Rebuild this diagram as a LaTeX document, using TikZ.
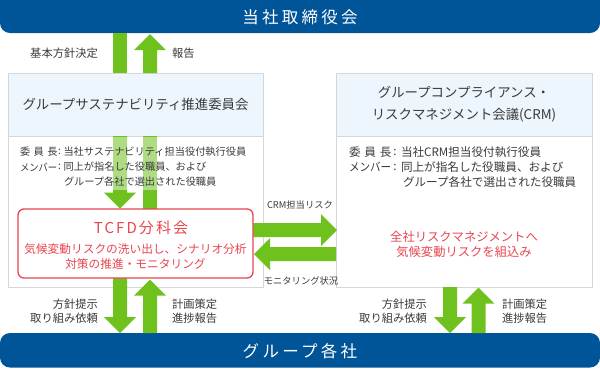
\documentclass[tikz,border=0pt]{standalone}
\usepackage{graphicx}
\usepackage{fontspec}
\setmainfont{Noto Sans CJK JP}
\newfontfamily\spacedfont[LetterSpace=20]{Noto Sans CJK JP}
\newfontfamily\tcfdfont[LetterSpace=14]{Noto Sans CJK JP}
\usetikzlibrary{calc}
\definecolor{barblue}{RGB}{0,84,152}
\definecolor{agreen}{RGB}{111,193,30}
\definecolor{tred}{RGB}{232,70,80}
\definecolor{hdrblue}{RGB}{237,245,253}
\definecolor{bgray}{RGB}{214,214,214}
\definecolor{txt}{RGB}{58,58,58}
\newcommand\garrow[3][agreen]{%
  \coordinate (gh) at ($(#3)!16pt!(#2)$);
  \fill[#1] ($(#2)!7pt!90:(#3)$) -- ($(gh)!7pt!90:(#3)$) -- ($(gh)!16pt!90:(#3)$) -- (#3)
     -- ($(gh)!16pt!-90:(#3)$) -- ($(gh)!7pt!-90:(#3)$) -- ($(#2)!7pt!-90:(#3)$) -- cycle;}
\newcommand\gshaft[3][agreen]{%
  \fill[#1] ($(#2)!7pt!90:(#3)$) -- ($(#3)!7pt!-90:(#2)$) -- ($(#3)!7pt!90:(#2)$) -- ($(#2)!7pt!-90:(#3)$) -- cycle;}
\begin{document}
\begin{tikzpicture}[x=1pt,y=-1pt,
  every node/.style={inner sep=0pt,outer sep=0pt},
  bartext/.style={text=white,font=\spacedfont\fontsize{16.5}{18}\selectfont},
  hdrtext/.style={text=txt,font=\fontsize{13.4}{22}\selectfont,align=center},
  bodyl/.style={text=txt,font=\fontsize{10.2}{12}\selectfont,anchor=west},
  bodyr/.style={text=txt,font=\fontsize{11.6}{13}\selectfont,anchor=west},
  lbl/.style={text=txt,font=\fontsize{11.3}{14}\selectfont},
  sml/.style={text=txt,font=\fontsize{9.3}{11}\selectfont},
  panel/.style={draw=bgray,line width=0.8pt,fill=white},
  panelhdr/.style={draw=bgray,line width=0.8pt,fill=hdrblue},
  tcfdbox/.style={draw=tred,line width=1.3pt,fill=white,rounded corners=6pt}]
\useasboundingbox (0,0) rectangle (600,368);
% bars
\begin{scope}
  \clip (0,0) rectangle (600,368);
  \fill[barblue,rounded corners=10pt] (0,-20) rectangle (600,33);
\end{scope}
\fill[barblue,rounded corners=10pt] (0,333) rectangle (600,367.5);
\node[bartext] (board) at (300,17) {当社取締役会};
\node[bartext] (group) at (300,351) {グループ各社};
% panels
\draw[panel] (8,73) rectangle (263,287);
\draw[panelhdr] (8,73) rectangle (263,136);
\draw[panel] (336,73) rectangle (592,287);
\draw[panelhdr] (336,73) rectangle (592,136);
% vertical arrows top
\coordinate (a1) at (120,33);  \coordinate (a2) at (120,73);
\coordinate (a3) at (120,136); \coordinate (a4) at (120,208.5);
\coordinate (b1) at (150,209); \coordinate (b2) at (150,136);
\coordinate (b3) at (150,73);  \coordinate (b4) at (150,34);
\gshaft{a1}{a2}
\garrow{a3}{a4}
\gshaft{b1}{b2}
\garrow{b3}{b4}
\fill[white,opacity=0.45] (9,137) rectangle (262,190);
% vertical arrows bottom
\coordinate (c1) at (120,278);   \coordinate (c2) at (120,333);
\coordinate (c3) at (150,333);   \coordinate (c4) at (150,279.5);
\coordinate (e1) at (450,287);   \coordinate (e2) at (450,333);
\coordinate (f1) at (478.5,333); \coordinate (f2) at (478.5,287.5);
\garrow{c1}{c2}
\garrow{c3}{c4}
\garrow{e1}{e2}
\garrow{f1}{f2}
% horizontal arrows
\coordinate (g1) at (253,230); \coordinate (g2) at (337,230);
\coordinate (h1) at (336,254); \coordinate (h2) at (254,254);
\garrow{g1}{g2}
\garrow{h1}{h2}
% headers
\node[hdrtext] (susttl) at (135.5,104) {グループサステナビリティ推進委員会};
\node[hdrtext] (crmttl) at (464,104) {グループコンプライアンス・\\リスクマネジメント会議(CRM)};
% left body
\node[bodyl] (lchair) at (20,152) {\hbox to 37.5pt{委\hfill 員\hfill 長}};
\node[bodyl] (lmem) at (20,167) {\hbox to 37.5pt{\scalebox{0.91}[1]{メンバー}\hfill}};
\node[text=txt,font=\fontsize{10.2}{12}\selectfont] (lc1) at (59.5,152) {:};
\node[text=txt,font=\fontsize{10.2}{12}\selectfont] (lc2) at (59.5,167) {:};
\node[bodyl] (lchairv) at (63.5,152) {当社サステナビリティ担当役付執行役員};
\node[bodyl] (lmemv1) at (63.5,167) {同上が指名した役職員、および};
\node[bodyl] (lmemv2) at (64,182) {グループ各社で選出された役職員};
% right body
\node[bodyr] (rchair) at (349,152) {\hbox to 42.5pt{委\hfill 員\hfill 長}};
\node[bodyr] (rmem) at (349,167) {\hbox to 42.5pt{\scalebox{0.91}[1]{メンバー}\hfill}};
\node[text=txt,font=\fontsize{11.6}{13}\selectfont] (rc1) at (395,152) {:};
\node[text=txt,font=\fontsize{11.6}{13}\selectfont] (rc2) at (395,167) {:};
\node[bodyr] (rchairv) at (401,152) {当社CRM担当役付執行役員};
\node[bodyr] (rmemv1) at (401,167) {同上が指名した役職員、および};
\node[bodyr] (rmemv2) at (403,182) {グループ各社で選出された役職員};
% TCFD
\node[tcfdbox,minimum width=235pt,minimum height=69pt] (tcfd) at (135.5,243.5) {};
\node[text=tred,font=\tcfdfont\fontsize{15}{15}\selectfont] (tcfdt) at (141,228) {TCFD分科会};
\node[text=tred,font=\fontsize{11.7}{15}\selectfont,align=center] (tcfdd) at (135.5,256.5) {気候変動リスクの洗い出し、シナリオ分析\\対策の推進・モニタリング};
% right red text
\node[text=tred,font=\fontsize{12.3}{15.5}\selectfont,align=center] (crmrisk) at (464,244.5) {全社リスクマネジメントへ\\気候変動リスクを組込み};
% labels
\node[lbl,anchor=east] (kihon) at (98,53) {基本方針決定};
\node[lbl,anchor=west] (hokoku) at (172,53) {報告};
\node[lbl,anchor=east,align=right] (lreq) at (98,311) {方針提示\\取り組み依頼};
\node[lbl,anchor=west,align=left] (lrep) at (172,311) {計画策定\\進捗報告};
\node[lbl,anchor=east,align=right] (rreq) at (427,311) {方針提示\\取り組み依頼};
\node[lbl,anchor=west,align=left] (rrep) at (502,311) {計画策定\\進捗報告};
\node[sml] (crmlbl) at (300,205) {CRM担当リスク};
\node[sml] (monlbl) at (301,281) {モニタリング状況};
\end{tikzpicture}
\end{document}
